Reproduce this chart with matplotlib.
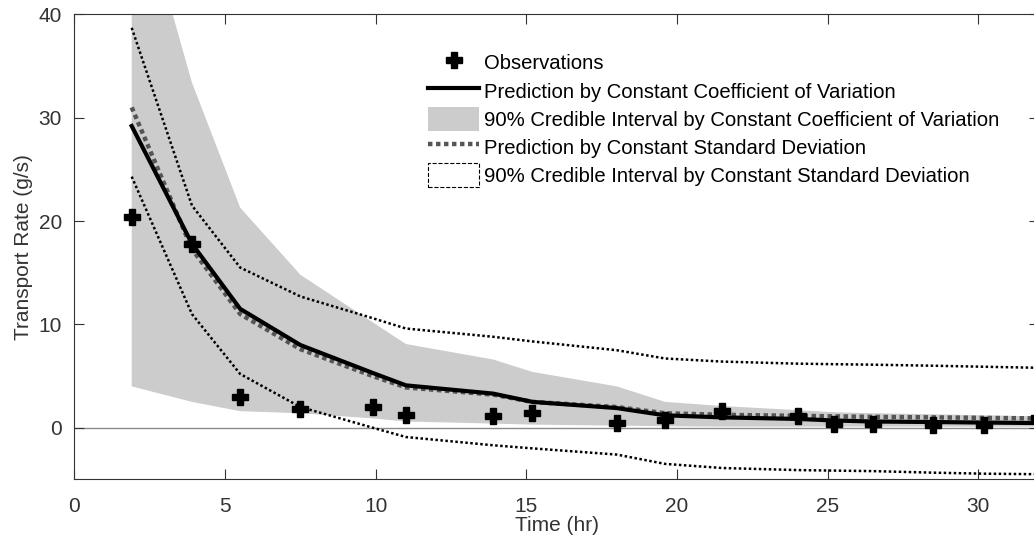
import numpy as np
import matplotlib
matplotlib.use("Agg")
import matplotlib.pyplot as plt
from matplotlib.lines import Line2D
from matplotlib.patches import Patch

plt.rcParams['font.family'] = ['Liberation Sans', 'DejaVu Sans']

# time of each sample (hr)
t = [1.9, 3.9, 5.5, 7.5, 9.9, 11.0, 13.9, 15.2, 18.0, 19.6, 21.5, 24.0, 25.2, 26.5, 28.5, 30.2, 32.0]
obs = [20.4, 17.8, 3.0, 1.8, 2.0, 1.2, 1.1, 1.4, 0.45, 0.75, 1.6, 1.1, 0.35, 0.35, 0.25, 0.25, 0.9]

# constant coefficient of variation
pred_cv = [29.2, 17.8, 11.5, 8.0, 5.3, 4.1, 3.3, 2.5, 1.9, 1.2, 1.0, 0.85, 0.7, 0.6, 0.55, 0.5, 0.45]
cv_hi = [54.0, 33.4, 21.3, 14.8, 10.2, 8.1, 6.6, 5.4, 4.0, 2.5, 2.1, 1.7, 1.5, 1.4, 1.3, 1.2, 1.1]
cv_lo = [4.0, 2.5, 1.6, 1.4, 0.9, 0.6, 0.4, 0.3, 0.2, 0.15, 0.1, 0.1, 0.1, 0.1, 0.1, 0.1, 0.1]

# constant standard deviation
pred_sd = [31.0, 17.3, 11.0, 7.6, 5.0, 3.9, 3.2, 2.5, 2.0, 1.4, 1.25, 1.15, 1.1, 1.05, 1.0, 0.95, 0.9]
sd_hi = [38.7, 21.5, 15.5, 12.7, 10.6, 9.6, 8.8, 8.35, 7.5, 6.7, 6.4, 6.2, 6.15, 6.1, 6.0, 5.9, 5.8]
sd_lo = [24.3, 11.0, 5.2, 2.0, 0.0, -0.9, -1.7, -2.0, -2.6, -3.5, -3.9, -4.1, -4.15, -4.2, -4.35, -4.45, -4.5]

axcol = '#333333'
fs = 15

fig = plt.figure(figsize=(10.34, 5.5), dpi=100)
ax = fig.add_axes([0.072, 0.1284, 0.9325, 0.8454])

ax.axhline(0, color='#8c8c8c', lw=1.0, zorder=1)
ax.fill_between(t, cv_lo, cv_hi, color='#cccccc', lw=0, zorder=2)
ax.plot(t, sd_hi, color='k', lw=1.8, ls=(0, (1, 1)), zorder=3)
ax.plot(t, sd_lo, color='k', lw=1.8, ls=(0, (1, 1)), zorder=3)
ax.plot(t, pred_sd, color='#555555', lw=3.2, ls=(0, (1, 0.8)), zorder=4)
ax.plot(t, pred_cv, color='k', lw=3.0, zorder=5)
ax.plot(t, obs, ls='none', marker='P', ms=12, color='k', zorder=6)

ax.set_xlim(0, 32)
ax.set_ylim(-5, 40)
ax.set_xticks([0, 5, 10, 15, 20, 25, 30])
ax.set_yticks([0, 10, 20, 30, 40])
ax.tick_params(direction='in', top=True, right=True, length=7, width=0.8,
               colors=axcol, labelsize=fs)
ax.tick_params(axis='x', pad=13)
ax.tick_params(axis='y', pad=9)
for s in ax.spines.values():
    s.set_color(axcol)
    s.set_linewidth(0.8)

ax.set_xlabel('Time (hr)', fontsize=fs, color=axcol, labelpad=0)
ax.set_ylabel('Transport Rate (g/s)', fontsize=fs, color=axcol, labelpad=4)

handles = [
    Line2D([], [], ls='none', marker='P', ms=12, color='k'),
    Line2D([], [], color='k', lw=3.0),
    Patch(facecolor='#cccccc', edgecolor='none'),
    Line2D([], [], color='#555555', lw=3.2, ls=(0, (1, 0.8))),
    Patch(facecolor='none', edgecolor='k', ls='--', lw=0.8),
]
labels = [
    'Observations',
    'Prediction by Constant Coefficient of Variation',
    '90% Credible Interval by Constant Coefficient of Variation',
    'Prediction by Constant Standard Deviation',
    '90% Credible Interval by Constant Standard Deviation',
]
ax.legend(handles, labels, loc='upper left', bbox_to_anchor=(0.367, 0.922),
          frameon=False, fontsize=14.6, handlelength=2.5, handleheight=1.45,
          handletextpad=0.25, labelspacing=0.2, borderpad=0, borderaxespad=0)

fig.savefig('out.png', dpi=100)
